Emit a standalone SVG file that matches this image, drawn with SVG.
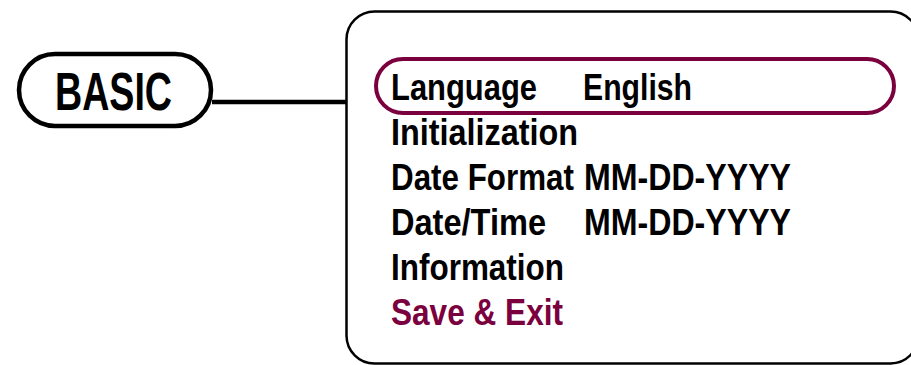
<svg xmlns="http://www.w3.org/2000/svg" width="911" height="365" viewBox="0 0 911 365">
<style>
.t{font-family:"Liberation Sans Narrow","Liberation Sans",Arial,sans-serif;font-weight:bold;fill:#000}
.m{font-size:37.5px}
.hl{fill:#7b003e}
</style>
<rect width="911" height="365" fill="#fff"/>
<g id="connectors">
<line x1="212" y1="102" x2="347" y2="102" stroke="#000" stroke-width="4.5"/>
</g>
<g id="basic">
<rect x="19" y="54" width="192" height="72" rx="36" fill="#fff" stroke="#000" stroke-width="4.5"/>
<text class="t" x="55" y="110" font-size="53" textLength="117" lengthAdjust="spacingAndGlyphs">BASIC</text>
</g>
<g id="menu">
<rect x="346.5" y="11.5" width="572" height="352" rx="28" fill="#fff" stroke="#000" stroke-width="2.5"/>
<rect x="376" y="59" width="518" height="54" rx="27" fill="none" stroke="#7b003e" stroke-width="4"/>
<text class="t m" x="391" y="100" textLength="146" lengthAdjust="spacingAndGlyphs">Language</text>
<text class="t m" x="583" y="100" textLength="109" lengthAdjust="spacingAndGlyphs">English</text>
<text class="t m" x="391" y="145" textLength="187" lengthAdjust="spacingAndGlyphs">Initialization</text>
<text class="t m" x="391" y="190" textLength="183" lengthAdjust="spacingAndGlyphs">Date Format</text>
<text class="t m" x="584" y="190" textLength="207" lengthAdjust="spacingAndGlyphs">MM-DD-YYYY</text>
<text class="t m" x="391" y="235" textLength="155" lengthAdjust="spacingAndGlyphs">Date/Time</text>
<text class="t m" x="584" y="235" textLength="207" lengthAdjust="spacingAndGlyphs">MM-DD-YYYY</text>
<text class="t m" x="391" y="280" textLength="173" lengthAdjust="spacingAndGlyphs">Information</text>
<text class="t m hl" x="391" y="325" textLength="172" lengthAdjust="spacingAndGlyphs">Save &amp; Exit</text>
</g>
</svg>
